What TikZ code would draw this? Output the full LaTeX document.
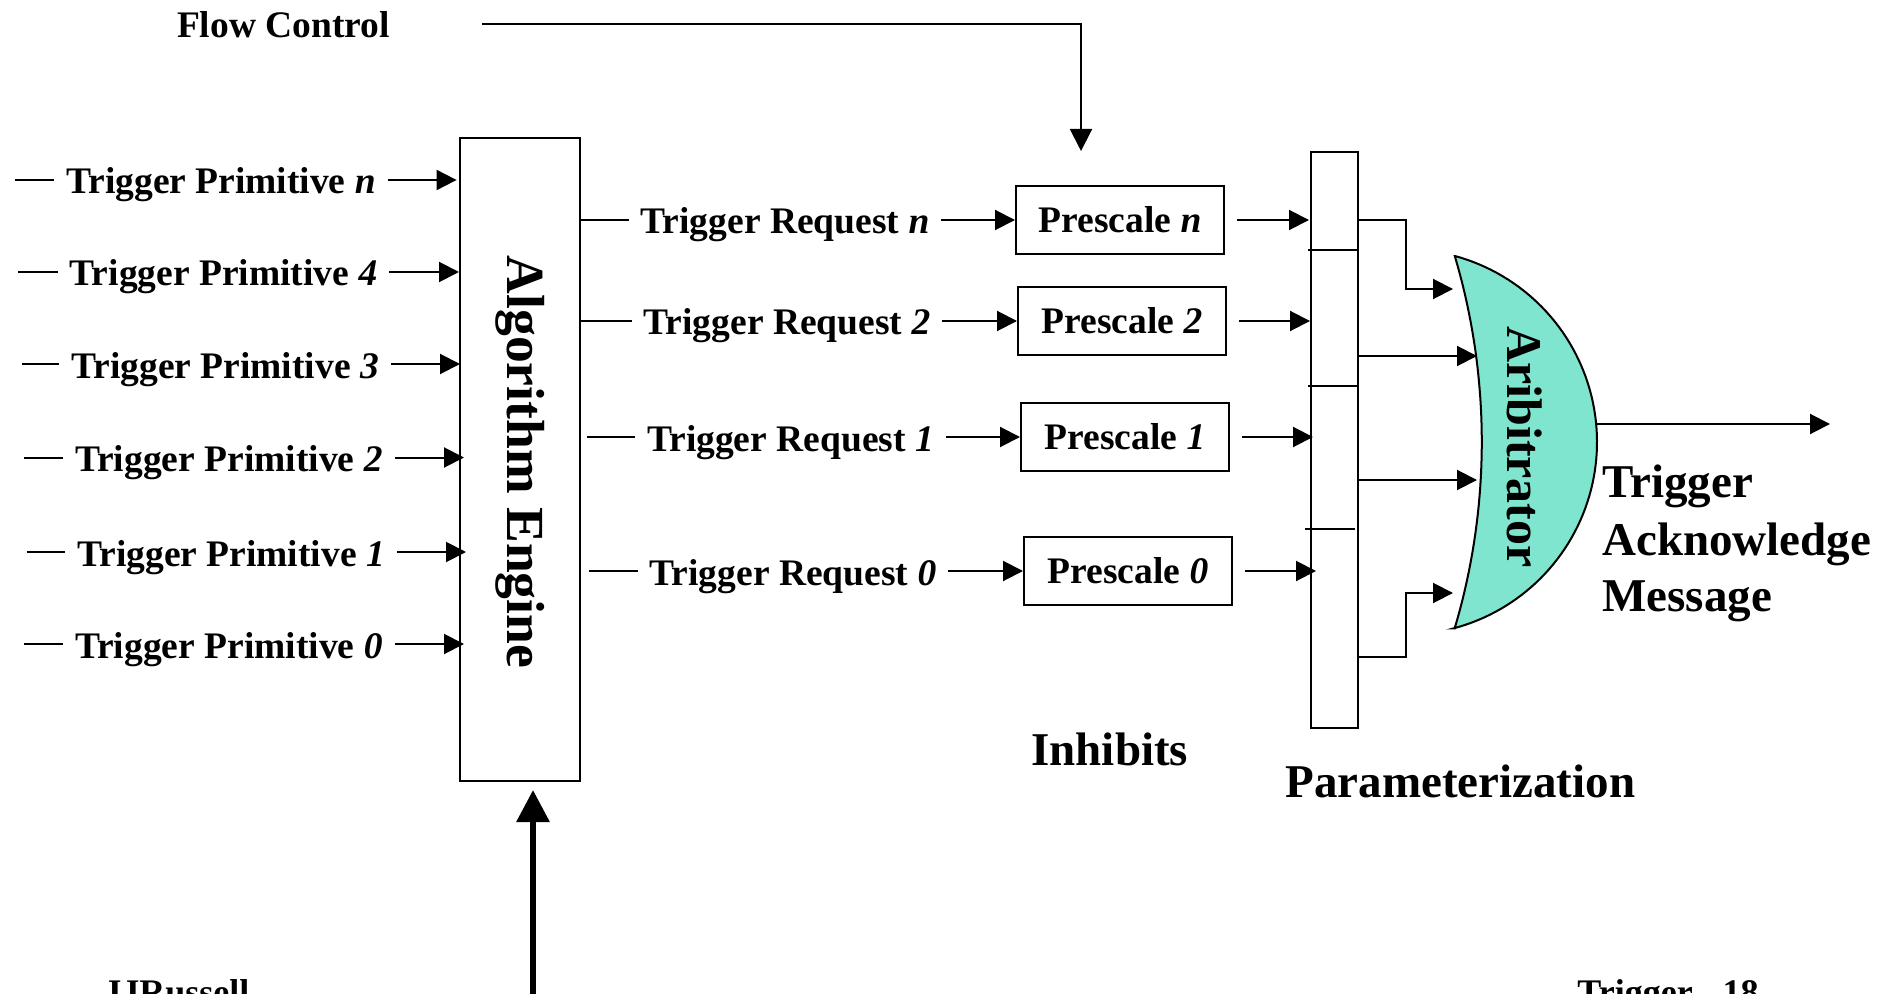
\documentclass[tikz,border=0pt]{standalone}
\usepackage{fontspec}
\setmainfont{Liberation Serif}
\usetikzlibrary{arrows.meta,calc}
\definecolor{arbcol}{RGB}{128,229,206}
\begin{document}
\begin{tikzpicture}[x=0.5pt,y=-0.5pt,
  lw/.style={line width=1pt},
  arr/.style={line width=1pt,-{Triangle[length=10pt,width=10pt]}},
  fcarr/.style={line width=1pt,-{Triangle[length=11pt,width=11pt]}},
  bigarr/.style={line width=3pt,-{Triangle[length=16pt,width=16pt]}},
  lbl/.style={font=\fontsize{18.75}{22}\selectfont\bfseries, fill=white, inner xsep=6pt, inner ysep=1pt, anchor=base},
  psbox/.style={draw, line width=1pt, minimum width=104pt, minimum height=34pt, inner sep=0pt, font=\fontsize{18.75}{22}\selectfont\bfseries},
  bigtxt/.style={font=\fontsize{23.5}{28}\selectfont\bfseries, inner sep=0pt, anchor=base west},
  foot/.style={font=\fontsize{18}{22}\selectfont\bfseries, inner sep=0pt, anchor=base west},
]
\fill[white] (0,0) rectangle (1898,994);
\useasboundingbox (0,0) rectangle (1898,994);

% Algorithm engine
\node[draw, line width=1pt, minimum width=60pt, minimum height=321.5pt, inner sep=0pt] (ae) at (520,459.5) {};
\node[rotate=-90, inner sep=0pt, font=\fontsize{26.8}{30}\selectfont\bfseries] (aet) at (520,462) {Algorithm Engine};

% Prescale boxes
\node[psbox] (pn) at (1120,220) {Prescale \textit{n}};
\node[psbox] (p2) at (1122,321) {Prescale \textit{2}};
\node[psbox] (p1) at (1125,437) {Prescale \textit{1}};
\node[psbox] (p0) at (1128,571) {Prescale \textit{0}};

% Parameterization column
\node[draw, line width=1pt, minimum width=23.5pt, minimum height=287.5pt, inner sep=0pt] (par) at (1334.5,440) {};
\foreach \yy/\xa/\xb in {250.5/1308/1358, 386/1308/1358, 529/1305/1355}
  \draw[lw] (\xa,\yy) -- (\xb,\yy);

% Arbitrator
\filldraw[fill=arbcol, line width=1pt]
  plot[domain=-74.7:75.3, samples=80] ({1404.2+192.8*cos(\x)},{442+192.8*sin(\x)})
  -- plot[domain=-16.57:16.52, samples=40] ({827.8+654*cos(-\x)},{442+654*sin(-\x)})
  -- cycle;
\node[rotate=-90, inner sep=0pt, font=\fontsize{25}{30}\selectfont\bfseries] (arb) at (1525,447) {Aribitrator};

\coordinate (ai1) at (1453,289);
\coordinate (ai1c) at (1406,289);
\coordinate (ai2) at (1477,356);
\coordinate (ai3) at (1477,480);
\coordinate (ai4) at (1453,593);
\coordinate (ai4c) at (1406,593);
\coordinate (aout) at (1596,424);
\coordinate (otip) at (1830,424);

% Parameterization -> Arbitrator
\draw[arr] (par.east |- pn.east) -| (ai1c) -- (ai1);
\draw[arr] (par.east |- ai2) -- (ai2);
\draw[arr] (par.east |- ai3) -- (ai3);
\coordinate (pb) at (1358,657);
\draw[arr] (pb) -| (ai4c) -- (ai4);

% Output
\draw[arr] (aout) -- (otip);

% Flow control
\node[font=\fontsize{18.75}{22}\selectfont\bfseries, inner sep=0pt, anchor=base] (fc) at (283.5,38) {Flow Control};
\coordinate (fcs) at (482,24);
\coordinate (fce) at (1081,151);
\draw[fcarr] (fcs) -| (fce);

% Trigger primitives
\foreach \nm/\sx/\yy/\cx/\ov in {n/14.5/180/221/-2.4, 4/18/272/223.5/0, 3/22/364/225/1, 2/24/457.5/228.8/5, 1/26.6/552/231/7, 0/24/644/228.8/5}{
  \coordinate (tp\nm) at (\sx,\yy);
  \draw[arr] (tp\nm) -- ($(ae.west |- tp\nm)+(\ov,0)$);
  \node[lbl] (tpl\nm) at (\cx,\yy+14) {Trigger Primitive \textit{\nm}};
}

% Trigger requests
\foreach \nm/\yy/\sh/\cx in {n/220/0/785, 2/321/0/787, 1/437/6/790.5, 0/571/8/793}{
  \draw[arr] ($(ae.east |- p\nm.west)+(\sh,0)$) -- (p\nm.west);
  \node[lbl] (trl\nm) at (\cx,\yy+14) {Trigger Request \textit{\nm}};
}

% Prescale -> Parameterization
\foreach \nm/\ov in {n/-1, 2/0, 1/3, 0/6}
  \draw[arr] ($(p\nm.east)+(12,0)$) -- ($(par.west |- p\nm.east)+(\ov,0)$);

% Bottom thick arrow
\coordinate (fb) at (533,1012);
\draw[bigarr, shorten >=4pt] (fb) -- (fb |- ae.south);

% Texts
\node[bigtxt] (tam1) at (1602,497) {Trigger};
\node[bigtxt] (tam2) at (1602,555) {Acknowledge};
\node[bigtxt] (tam3) at (1602,611) {Message};
\node[bigtxt] (inh) at (1031,765) {Inhibits};
\node[bigtxt] (parl) at (1285,797) {Parameterization};
\node[foot] (f1) at (103,1004) {JJRussell};
\node[foot] (f2) at (1577,1004) {Trigger - 18};
\end{tikzpicture}
\end{document}
